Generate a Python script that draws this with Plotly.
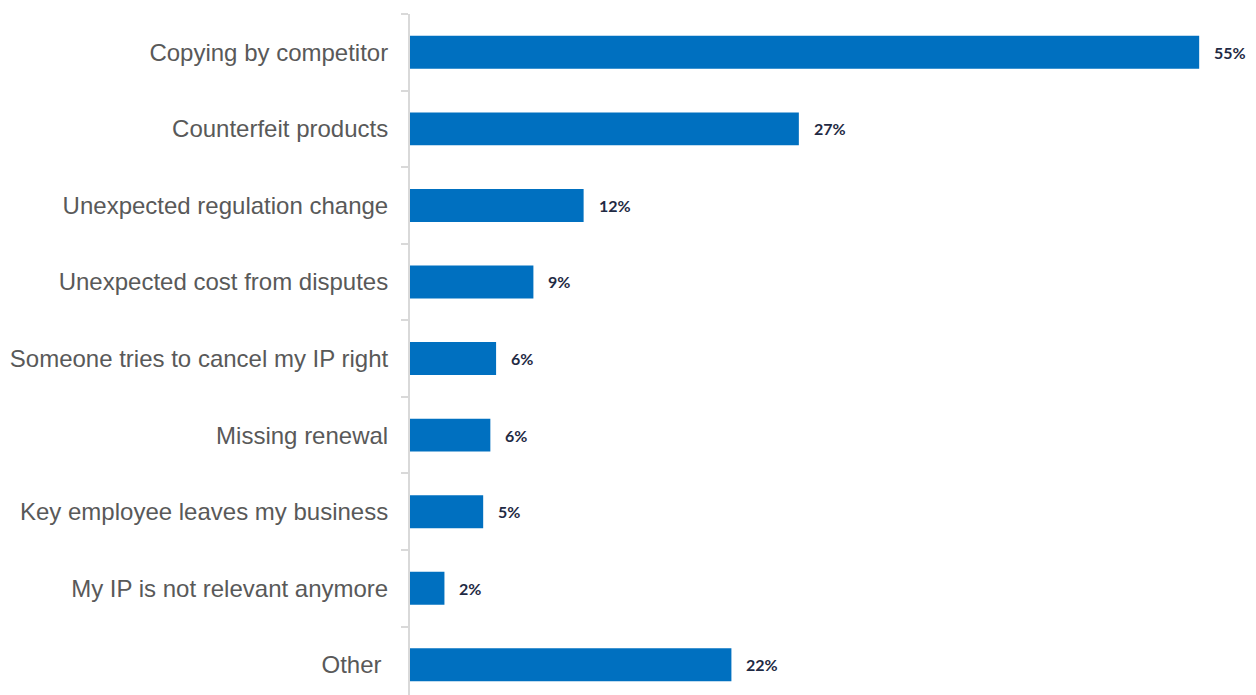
import plotly.graph_objects as go

categories = [
    "Copying by competitor",
    "Counterfeit products",
    "Unexpected regulation change",
    "Unexpected cost from disputes",
    "Someone tries to cancel my IP right",
    "Missing renewal",
    "Key employee leaves my business",
    "My IP is not relevant anymore",
    "Other\u00a0",
]
values = [55.0, 27.1, 12.1, 8.6, 6.0, 5.6, 5.1, 2.4, 22.4]
value_labels = ["55%", "27%", "12%", "9%", "6%", "6%", "5%", "2%", "22%"]

fig = go.Figure()
fig.add_trace(go.Bar(
    x=values,
    y=categories,
    orientation="h",
    marker=dict(color="#0070C0", line=dict(width=0)),
    hoverinfo="skip",
))

for c, v, t in zip(categories, values, value_labels):
    fig.add_annotation(
        x=v, y=c, text=f"<b>{t}</b>", showarrow=False,
        xanchor="left", yanchor="middle", xshift=13,
        font=dict(family="Lato", size=16, color="#1F2A44"),
    )

fig.update_layout(
    width=1248, height=687,
    margin=dict(l=402, r=0, t=6, b=0),
    paper_bgcolor="white", plot_bgcolor="white",
    bargap=0.57,
    showlegend=False,
    xaxis=dict(range=[0, 58.96], visible=False, showgrid=False, zeroline=False),
    yaxis=dict(
        type="category",
        range=[8.394, -0.5],
        showline=True, linecolor="#d9d9d9", linewidth=2,
        ticks="outside", tickson="boundaries", ticklen=7, tickcolor="#d9d9d9", tickwidth=2,
        showgrid=False, zeroline=False,
        tickfont=dict(family="Liberation Sans, Arial", size=24, color="#595959"),
        ticklabelstandoff=15,
    ),
)

fig.write_html("out.html")
